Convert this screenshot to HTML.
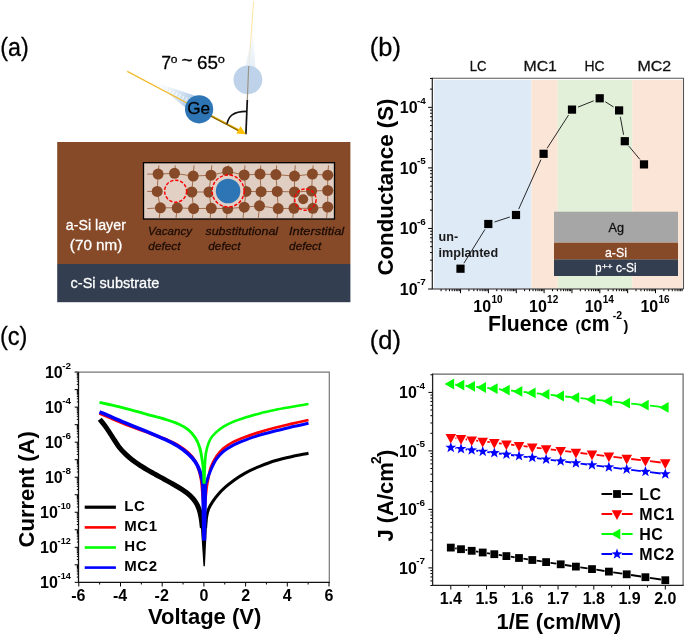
<!DOCTYPE html>
<html lang="en"><head><meta charset="utf-8"><title>Figure</title>
<style>html,body{margin:0;padding:0;background:#fff;overflow:hidden}svg{display:block;will-change:transform}text{font-family:"Liberation Sans",Arial,sans-serif;white-space:pre}</style></head>
<body>
<svg width="685" height="636" viewBox="0 0 685 636">
<rect width="685" height="636" fill="#fff"/>
<g id="pa">
<text x="0.35" y="55.80" font-size="25" textLength="28.4" lengthAdjust="spacingAndGlyphs" stroke="#000" stroke-width="0.28">(a)</text>
<defs><linearGradient id="tail1" gradientUnits="userSpaceOnUse" x1="156" y1="83" x2="190" y2="102"><stop offset="0" stop-color="#dbe7f4" stop-opacity="0"/><stop offset="1" stop-color="#b3cdea" stop-opacity="1"/></linearGradient><linearGradient id="tail2" gradientUnits="userSpaceOnUse" x1="253" y1="30" x2="249" y2="70"><stop offset="0" stop-color="#dbe7f4" stop-opacity="0"/><stop offset="1" stop-color="#e6eff8" stop-opacity="1"/></linearGradient><linearGradient id="yl" gradientUnits="userSpaceOnUse" x1="127" y1="71" x2="200" y2="110"><stop offset="0" stop-color="#ffc000" stop-opacity="0.75"/><stop offset="1" stop-color="#e0a800"/></linearGradient></defs>
<line x1="253.6" y1="1.5" x2="248.9" y2="66" stroke="#ffe7a6" stroke-width="1.1"/>
<polygon points="251.8,36 253.2,36 255.5,68 245.2,68" fill="url(#tail2)"/>
<circle cx="247.9" cy="79.8" r="14.4" fill="#bed3e9"/>
<line x1="248.7" y1="66" x2="247.3" y2="100" stroke="#9c9486" stroke-width="1.2"/>
<line x1="247.3" y1="100" x2="245.9" y2="134.3" stroke="#111" stroke-width="1.7"/>
<polygon points="153.6,81.8 196,96 187,109" fill="url(#tail1)"/>
<line x1="166" y1="89" x2="189" y2="100.8" stroke="#fff" stroke-width="4" stroke-dasharray="1.3 2.4" opacity="0.7"/>
<line x1="127.3" y1="71.4" x2="187" y2="103" stroke="#f2b92a" stroke-width="1.2"/>
<line x1="205" y1="112.7" x2="240" y2="131" stroke="#d9a400" stroke-width="2"/>
<line x1="205" y1="113.2" x2="239" y2="131" stroke="#5a4300" stroke-width="0.8"/>
<polygon points="245.9,134.2 236.2,133.4 240.5,126.2" fill="#ffc000"/>
<circle cx="199.1" cy="109.3" r="14.1" fill="#2e75b6"/>
<text x="187.24" y="114.40" font-size="17" textLength="22.9" lengthAdjust="spacingAndGlyphs" stroke="#000" stroke-width="0.28">Ge</text>
<path d="M227,123.9 C228.6,116.6 232.6,111.4 246.4,111.4" fill="none" stroke="#111" stroke-width="1.6"/>
<text x="161.22" y="68.60" font-size="17.6" textLength="9.8" lengthAdjust="spacingAndGlyphs" stroke="#000" stroke-width="0.28">7</text>
<text x="170.89" y="63.00" font-size="11.4" textLength="6.7" lengthAdjust="spacingAndGlyphs" stroke="#000" stroke-width="0.28">o</text>
<text x="181.55" y="65.60" font-size="17.6" textLength="11.1" lengthAdjust="spacingAndGlyphs" stroke="#000" stroke-width="0.28">~</text>
<text x="196.95" y="68.60" font-size="17.6" textLength="21.0" lengthAdjust="spacingAndGlyphs" stroke="#000" stroke-width="0.28">65</text>
<text x="217.86" y="63.00" font-size="11.4" textLength="7.1" lengthAdjust="spacingAndGlyphs" stroke="#000" stroke-width="0.28">o</text>
<rect x="57.2" y="142" width="293.2" height="122.2" fill="#864a28"/>
<rect x="57.2" y="264" width="293.2" height="38.2" fill="#333f50"/>
<text x="65.79" y="229.90" font-size="14.5" fill="#fff" textLength="60.1" lengthAdjust="spacingAndGlyphs" stroke="#fff" stroke-width="0.28">a-Si layer</text>
<text x="69.85" y="249.70" font-size="14.5" fill="#fff" textLength="52.5" lengthAdjust="spacingAndGlyphs" stroke="#fff" stroke-width="0.28">(70 nm)</text>
<text x="70.58" y="287.60" font-size="14.5" fill="#fff" textLength="88.7" lengthAdjust="spacingAndGlyphs" stroke="#fff" stroke-width="0.28">c-Si substrate</text>
<rect x="143.5" y="162.7" width="191" height="56.3" fill="#e0cec2" stroke="#000" stroke-width="1.3"/>
<path d="M147.2,174.1L158.1,174.1 M158.1,174.1L174.5,173.3 M174.5,173.3L193.2,176.1 M193.2,176.1L211.0,175.2 M211.0,175.2L227.7,171.5 M227.7,171.5L244.2,175.0 M244.2,175.0L260.0,174.1 M260.0,174.1L275.9,174.6 M275.9,174.6L294.5,176.1 M294.5,176.1L312.4,174.1 M312.4,174.1L327.7,175.2 M327.7,175.2L333.8,175.2 M147.2,191.4L157.2,191.4 M191.8,192.0L209.0,192.0 M246.0,191.4L261.1,191.7 M261.1,191.7L277.2,191.4 M277.2,191.4L294.5,192.0 M294.5,192.0L311.6,191.0 M311.6,191.0L327.7,190.5 M327.7,190.5L333.8,190.5 M147.2,208.6L160.4,207.8 M160.4,207.8L177.2,207.8 M177.2,207.8L193.6,208.6 M193.6,208.6L211.3,208.3 M211.3,208.3L227.7,208.6 M227.7,208.6L244.2,207.2 M244.2,207.2L259.5,205.8 M259.5,205.8L278.2,208.6 M278.2,208.6L294.0,208.3 M294.0,208.3L312.9,208.3 M312.9,208.3L327.7,207.0 M327.7,207.0L333.8,207.0 M158.9,165.4L158.1,174.1 M158.1,174.1L157.2,191.4 M157.2,191.4L160.4,207.8 M160.4,207.8L159.2,218.3 M175.3,165.4L174.5,173.3 M177.2,207.8L176.0,218.3 M194.0,165.4L193.2,176.1 M193.2,176.1L191.8,192.0 M191.8,192.0L193.6,208.6 M193.6,208.6L192.4,218.3 M211.8,165.4L211.0,175.2 M211.0,175.2L209.0,192.0 M209.0,192.0L211.3,208.3 M211.3,208.3L210.1,218.3 M228.5,165.4L227.7,171.5 M227.7,208.6L226.5,218.3 M245.0,165.4L244.2,175.0 M244.2,175.0L246.0,191.4 M246.0,191.4L244.2,207.2 M244.2,207.2L243.0,218.3 M260.8,165.4L260.0,174.1 M260.0,174.1L261.1,191.7 M261.1,191.7L259.5,205.8 M259.5,205.8L258.3,218.3 M276.7,165.4L275.9,174.6 M275.9,174.6L277.2,191.4 M277.2,191.4L278.2,208.6 M278.2,208.6L277.0,218.3 M295.3,165.4L294.5,176.1 M294.5,176.1L294.5,192.0 M294.5,192.0L294.0,208.3 M294.0,208.3L292.8,218.3 M313.2,165.4L312.4,174.1 M312.4,174.1L311.6,191.0 M311.6,191.0L312.9,208.3 M312.9,208.3L311.7,218.3 M328.5,165.4L327.7,175.2 M327.7,175.2L327.7,190.5 M327.7,190.5L327.7,207.0 M327.7,207.0L326.5,218.3" stroke="#9a623f" stroke-width="0.9" fill="none"/>
<circle cx="158.1" cy="174.1" r="5.5" fill="#864a28"/>
<circle cx="174.5" cy="173.3" r="5.5" fill="#864a28"/>
<circle cx="193.2" cy="176.1" r="5.5" fill="#864a28"/>
<circle cx="211" cy="175.2" r="5.5" fill="#864a28"/>
<circle cx="227.7" cy="171.5" r="5.5" fill="#864a28"/>
<circle cx="244.2" cy="175.0" r="5.5" fill="#864a28"/>
<circle cx="260" cy="174.1" r="5.5" fill="#864a28"/>
<circle cx="275.9" cy="174.6" r="5.5" fill="#864a28"/>
<circle cx="294.5" cy="176.1" r="5.5" fill="#864a28"/>
<circle cx="312.4" cy="174.1" r="5.5" fill="#864a28"/>
<circle cx="327.7" cy="175.2" r="5.5" fill="#864a28"/>
<circle cx="157.2" cy="191.4" r="5.5" fill="#864a28"/>
<circle cx="191.8" cy="192" r="5.5" fill="#864a28"/>
<circle cx="209" cy="192" r="5.5" fill="#864a28"/>
<circle cx="246" cy="191.4" r="5.5" fill="#864a28"/>
<circle cx="261.1" cy="191.7" r="5.5" fill="#864a28"/>
<circle cx="277.2" cy="191.4" r="5.5" fill="#864a28"/>
<circle cx="294.5" cy="192" r="5.5" fill="#864a28"/>
<circle cx="311.6" cy="191" r="5.5" fill="#864a28"/>
<circle cx="327.7" cy="190.5" r="5.5" fill="#864a28"/>
<circle cx="160.4" cy="207.8" r="5.5" fill="#864a28"/>
<circle cx="177.2" cy="207.8" r="5.5" fill="#864a28"/>
<circle cx="193.6" cy="208.6" r="5.5" fill="#864a28"/>
<circle cx="211.3" cy="208.3" r="5.5" fill="#864a28"/>
<circle cx="227.7" cy="208.6" r="5.5" fill="#864a28"/>
<circle cx="244.2" cy="207.2" r="5.5" fill="#864a28"/>
<circle cx="259.5" cy="205.8" r="5.5" fill="#864a28"/>
<circle cx="278.2" cy="208.6" r="5.5" fill="#864a28"/>
<circle cx="294" cy="208.3" r="5.5" fill="#864a28"/>
<circle cx="312.9" cy="208.3" r="5.5" fill="#864a28"/>
<circle cx="327.7" cy="207" r="5.5" fill="#864a28"/>
<circle cx="175.6" cy="191.2" r="11" fill="#e3d0c5" stroke="#ff0000" stroke-width="1.45" stroke-dasharray="3.4 1.7"/>
<circle cx="228.1" cy="191" r="16" fill="#e3d0c5" stroke="#ff0000" stroke-width="1.45" stroke-dasharray="3.4 1.7"/>
<circle cx="228.1" cy="191" r="12.3" fill="#2e75b6"/>
<circle cx="303.2" cy="199.3" r="5" fill="#864a28"/>
<circle cx="305.4" cy="199.6" r="10.7" fill="none" stroke="#ff0000" stroke-width="1.45" stroke-dasharray="3.4 1.7"/>
<text x="148.09" y="234.90" font-size="11.8" font-style="italic" fill="#1c0c04" textLength="43.9" lengthAdjust="spacingAndGlyphs" stroke="#1c0c04" stroke-width="0.28">Vacancy</text>
<text x="148.32" y="250.10" font-size="11.8" font-style="italic" fill="#1c0c04" textLength="32.2" lengthAdjust="spacingAndGlyphs" stroke="#1c0c04" stroke-width="0.28">defect</text>
<text x="205.47" y="234.90" font-size="11.8" font-style="italic" fill="#1c0c04" textLength="72.6" lengthAdjust="spacingAndGlyphs" stroke="#1c0c04" stroke-width="0.28">substitutional</text>
<text x="208.21" y="250.10" font-size="11.8" font-style="italic" fill="#1c0c04" textLength="32.4" lengthAdjust="spacingAndGlyphs" stroke="#1c0c04" stroke-width="0.28">defect</text>
<text x="288.98" y="234.90" font-size="11.8" font-style="italic" fill="#1c0c04" textLength="55.2" lengthAdjust="spacingAndGlyphs" stroke="#1c0c04" stroke-width="0.28">Interstitial</text>
<text x="289.12" y="250.10" font-size="11.8" font-style="italic" fill="#1c0c04" textLength="32.2" lengthAdjust="spacingAndGlyphs" stroke="#1c0c04" stroke-width="0.28">defect</text>
</g>
<g id="pb">
<text x="369.81" y="55.90" font-size="25.4" textLength="31.1" lengthAdjust="spacingAndGlyphs" stroke="#000" stroke-width="0.28">(b)</text>
<text x="469.72" y="71.00" font-size="14.6" fill="#111" textLength="16.8" lengthAdjust="spacingAndGlyphs" stroke="#111" stroke-width="0.28">LC</text>
<text x="523.50" y="71.00" font-size="14.6" fill="#111" textLength="33.4" lengthAdjust="spacingAndGlyphs" stroke="#111" stroke-width="0.28">MC1</text>
<text x="584.45" y="71.00" font-size="14.6" fill="#111" textLength="20.1" lengthAdjust="spacingAndGlyphs" stroke="#111" stroke-width="0.28">HC</text>
<text x="637.48" y="71.00" font-size="14.6" fill="#111" textLength="33.7" lengthAdjust="spacingAndGlyphs" stroke="#111" stroke-width="0.28">MC2</text>
<rect x="433.9" y="79.9" width="97.6" height="208.7" fill="#deebf7"/>
<rect x="531.5" y="79.9" width="26.3" height="208.7" fill="#fbe5d6"/>
<rect x="557.8" y="79.9" width="74.5" height="208.7" fill="#e2f0d9"/>
<rect x="632.3" y="79.9" width="50.2" height="208.7" fill="#fbe5d6"/>
<path d="M428.1,289.00H432.3M430.1,270.77H432.3M430.1,260.11H432.3M430.1,252.55H432.3M430.1,246.68H432.3M430.1,241.88H432.3M430.1,237.83H432.3M430.1,234.32H432.3M430.1,231.22H432.3M428.1,228.45H432.3M430.1,210.22H432.3M430.1,199.56H432.3M430.1,192.00H432.3M430.1,186.13H432.3M430.1,181.33H432.3M430.1,177.28H432.3M430.1,173.77H432.3M430.1,170.67H432.3M428.1,167.90H432.3M430.1,149.67H432.3M430.1,139.01H432.3M430.1,131.45H432.3M430.1,125.58H432.3M430.1,120.78H432.3M430.1,116.73H432.3M430.1,113.22H432.3M430.1,110.12H432.3M428.1,107.35H432.3M430.1,89.12H432.3M430.1,78.46H432.3M441.08,289.0V291.2M445.99,289.0V291.2M449.47,289.0V291.2M452.17,289.0V291.2M454.37,289.0V291.2M456.24,289.0V291.2M457.85,289.0V291.2M459.28,289.0V291.2M460.55,289.0V293.2M468.93,289.0V291.2M473.84,289.0V291.2M477.32,289.0V291.2M480.02,289.0V291.2M482.22,289.0V291.2M484.09,289.0V291.2M485.70,289.0V291.2M487.13,289.0V291.2M488.40,289.0V293.2M496.78,289.0V291.2M501.69,289.0V291.2M505.17,289.0V291.2M507.87,289.0V291.2M510.07,289.0V291.2M511.94,289.0V291.2M513.55,289.0V291.2M514.98,289.0V291.2M516.25,289.0V293.2M524.63,289.0V291.2M529.54,289.0V291.2M533.02,289.0V291.2M535.72,289.0V291.2M537.92,289.0V291.2M539.79,289.0V291.2M541.40,289.0V291.2M542.83,289.0V291.2M544.10,289.0V293.2M552.48,289.0V291.2M557.39,289.0V291.2M560.87,289.0V291.2M563.57,289.0V291.2M565.77,289.0V291.2M567.64,289.0V291.2M569.25,289.0V291.2M570.68,289.0V291.2M571.95,289.0V293.2M580.33,289.0V291.2M585.24,289.0V291.2M588.72,289.0V291.2M591.42,289.0V291.2M593.62,289.0V291.2M595.49,289.0V291.2M597.10,289.0V291.2M598.53,289.0V291.2M599.80,289.0V293.2M608.18,289.0V291.2M613.09,289.0V291.2M616.57,289.0V291.2M619.27,289.0V291.2M621.47,289.0V291.2M623.34,289.0V291.2M624.95,289.0V291.2M626.38,289.0V291.2M627.65,289.0V293.2M636.03,289.0V291.2M640.94,289.0V291.2M644.42,289.0V291.2M647.12,289.0V291.2M649.32,289.0V291.2M651.19,289.0V291.2M652.80,289.0V291.2M654.23,289.0V291.2M655.50,289.0V293.2M663.88,289.0V291.2M668.79,289.0V291.2M672.27,289.0V291.2M674.97,289.0V291.2M677.17,289.0V291.2M679.04,289.0V291.2M680.65,289.0V291.2M682.08,289.0V291.2" stroke="#000" stroke-width="1" fill="none"/>
<path d="M432.3,78.3H683.5V289.0" stroke="#555" stroke-width="1.1" fill="none"/>
<path d="M432.3,77.8V289.0H683.5" stroke="#222" stroke-width="1.2" fill="none"/>
<text x="399.80" y="294.60" font-size="16" font-weight="bold">10</text>
<text x="417.00" y="285.40" font-size="9.5" font-weight="bold" textLength="8.8" lengthAdjust="spacingAndGlyphs">-7</text>
<text x="399.80" y="234.05" font-size="16" font-weight="bold">10</text>
<text x="417.00" y="224.85" font-size="9.5" font-weight="bold" textLength="8.8" lengthAdjust="spacingAndGlyphs">-6</text>
<text x="399.80" y="173.50" font-size="16" font-weight="bold">10</text>
<text x="417.00" y="164.30" font-size="9.5" font-weight="bold" textLength="8.8" lengthAdjust="spacingAndGlyphs">-5</text>
<text x="399.80" y="112.95" font-size="16" font-weight="bold">10</text>
<text x="417.00" y="103.75" font-size="9.5" font-weight="bold" textLength="8.8" lengthAdjust="spacingAndGlyphs">-4</text>
<text x="473.30" y="311.90" font-size="16" font-weight="bold">10</text>
<text x="491.40" y="303.00" font-size="10" font-weight="bold">10</text>
<text x="529.00" y="311.90" font-size="16" font-weight="bold">10</text>
<text x="547.10" y="303.00" font-size="10" font-weight="bold">12</text>
<text x="584.70" y="311.90" font-size="16" font-weight="bold">10</text>
<text x="602.80" y="303.00" font-size="10" font-weight="bold">14</text>
<text x="640.40" y="311.90" font-size="16" font-weight="bold">10</text>
<text x="658.50" y="303.00" font-size="10" font-weight="bold">16</text>
<text x="488.00" y="330.70" font-size="21.2" font-weight="bold">Fluence</text>
<text x="575.60" y="330.70" font-size="14.5" font-weight="bold">(</text>
<text x="580.60" y="330.70" font-size="21.2" font-weight="bold" textLength="28.8" lengthAdjust="spacingAndGlyphs">cm</text>
<text x="612.80" y="318.50" font-size="10.5" font-weight="bold">-2</text>
<text x="623.60" y="330.70" font-size="14.5" font-weight="bold">)</text>
<text transform="translate(392.6,275.6) rotate(-90)" font-size="22.3" font-weight="bold">Conductance (S)</text>
<path d="M463.9,263.2L484.9,229.5M494.5,222.0L509.8,217.0M518.7,209.1L540.9,159.7M547.1,148.3L568.5,115.1M578.0,107.1L593.7,100.8M605.2,101.7L613.6,107.0M620.3,116.8L623.6,134.8M628.9,146.2L639.9,159.4" stroke="#111" stroke-width="0.9" fill="none"/>
<rect x="456.4" y="264.6" width="8.2" height="8.2" fill="#000"/>
<rect x="484.2" y="219.9" width="8.2" height="8.2" fill="#000"/>
<rect x="511.9" y="210.9" width="8.2" height="8.2" fill="#000"/>
<rect x="539.5" y="149.7" width="8.2" height="8.2" fill="#000"/>
<rect x="567.9" y="105.5" width="8.2" height="8.2" fill="#000"/>
<rect x="595.6" y="94.2" width="8.2" height="8.2" fill="#000"/>
<rect x="615.0" y="106.3" width="8.2" height="8.2" fill="#000"/>
<rect x="620.7" y="137.1" width="8.2" height="8.2" fill="#000"/>
<rect x="639.9" y="160.3" width="8.2" height="8.2" fill="#000"/>
<text x="438.60" y="241.20" font-size="12.6" font-weight="bold" fill="#1a1a1a">un-</text>
<text x="438.60" y="257.10" font-size="12.6" font-weight="bold" fill="#1a1a1a">implanted</text>
<rect x="554" y="211.7" width="124" height="30.4" fill="#a6a6a6"/><rect x="554" y="242.0" width="124" height="0.8" fill="#cfc6bf"/>
<rect x="554" y="242.6" width="124" height="17" fill="#864a28"/>
<rect x="554" y="259.5" width="124" height="16.5" fill="#333f50"/>
<text x="608.57" y="231.90" font-size="12.9" fill="#111" textLength="15.5" lengthAdjust="spacingAndGlyphs" stroke="#111" stroke-width="0.28">Ag</text>
<text x="604.97" y="256.70" font-size="13" fill="#fff" textLength="22.0" lengthAdjust="spacingAndGlyphs" stroke="#fff" stroke-width="0.28">a-Si</text>
<text x="595.26" y="272.20" font-size="13" fill="#fff" textLength="6.3" lengthAdjust="spacingAndGlyphs" stroke="#fff" stroke-width="0.28">p</text>
<text x="602.07" y="268.60" font-size="7" fill="#fff" textLength="10.5" lengthAdjust="spacingAndGlyphs" stroke="#fff" stroke-width="0.28">++</text>
<text x="615.99" y="272.20" font-size="13" fill="#fff" textLength="20.6" lengthAdjust="spacingAndGlyphs" stroke="#fff" stroke-width="0.28">c-Si</text>
</g>
<g id="pc">
<text x="0.03" y="344.80" font-size="25.2" textLength="27.4" lengthAdjust="spacingAndGlyphs" stroke="#000" stroke-width="0.28">(c)</text>
<path d="M74.7,582.34H78.5M76.8,577.07H78.5M76.8,573.98H78.5M76.8,571.79H78.5M76.8,570.09H78.5M76.8,568.71H78.5M76.8,567.53H78.5M76.8,566.52H78.5M76.8,565.62H78.5M74.7,564.82H78.5M76.8,559.55H78.5M76.8,556.46H78.5M76.8,554.27H78.5M76.8,552.57H78.5M76.8,551.19H78.5M76.8,550.01H78.5M76.8,549.00H78.5M76.8,548.10H78.5M74.7,547.30H78.5M76.8,542.03H78.5M76.8,538.94H78.5M76.8,536.75H78.5M76.8,535.05H78.5M76.8,533.67H78.5M76.8,532.49H78.5M76.8,531.48H78.5M76.8,530.58H78.5M74.7,529.78H78.5M76.8,524.51H78.5M76.8,521.42H78.5M76.8,519.23H78.5M76.8,517.53H78.5M76.8,516.15H78.5M76.8,514.97H78.5M76.8,513.96H78.5M76.8,513.06H78.5M74.7,512.26H78.5M76.8,506.99H78.5M76.8,503.90H78.5M76.8,501.71H78.5M76.8,500.01H78.5M76.8,498.63H78.5M76.8,497.45H78.5M76.8,496.44H78.5M76.8,495.54H78.5M74.7,494.74H78.5M76.8,489.47H78.5M76.8,486.38H78.5M76.8,484.19H78.5M76.8,482.49H78.5M76.8,481.11H78.5M76.8,479.93H78.5M76.8,478.92H78.5M76.8,478.02H78.5M74.7,477.22H78.5M76.8,471.95H78.5M76.8,468.86H78.5M76.8,466.67H78.5M76.8,464.97H78.5M76.8,463.59H78.5M76.8,462.41H78.5M76.8,461.40H78.5M76.8,460.50H78.5M74.7,459.70H78.5M76.8,454.43H78.5M76.8,451.34H78.5M76.8,449.15H78.5M76.8,447.45H78.5M76.8,446.07H78.5M76.8,444.89H78.5M76.8,443.88H78.5M76.8,442.98H78.5M74.7,442.18H78.5M76.8,436.91H78.5M76.8,433.82H78.5M76.8,431.63H78.5M76.8,429.93H78.5M76.8,428.55H78.5M76.8,427.37H78.5M76.8,426.36H78.5M76.8,425.46H78.5M74.7,424.66H78.5M76.8,419.39H78.5M76.8,416.30H78.5M76.8,414.11H78.5M76.8,412.41H78.5M76.8,411.03H78.5M76.8,409.85H78.5M76.8,408.84H78.5M76.8,407.94H78.5M74.7,407.14H78.5M76.8,401.87H78.5M76.8,398.78H78.5M76.8,396.59H78.5M76.8,394.89H78.5M76.8,393.51H78.5M76.8,392.33H78.5M76.8,391.32H78.5M76.8,390.42H78.5M74.7,389.62H78.5M76.8,384.35H78.5M76.8,381.26H78.5M76.8,379.07H78.5M76.8,377.37H78.5M76.8,375.99H78.5M76.8,374.81H78.5M76.8,373.80H78.5M76.8,372.90H78.5M74.7,372.10H78.5M78.80,582.3V586.5M99.65,582.3V584.5M120.50,582.3V586.5M141.35,582.3V584.5M162.20,582.3V586.5M183.05,582.3V584.5M203.90,582.3V586.5M224.75,582.3V584.5M245.60,582.3V586.5M266.45,582.3V584.5M287.30,582.3V586.5M308.15,582.3V584.5M329.00,582.3V586.5" stroke="#000" stroke-width="1" fill="none"/>
<path d="M74.7,372.1H329.3V582.3" stroke="#777" stroke-width="1.2" fill="none"/>
<path d="M78.5,372.1V582.3H329.90000000000003" stroke="#111" stroke-width="1.3" fill="none"/>
<text x="40.00" y="587.94" font-size="16" font-weight="bold">10</text>
<text x="57.60" y="578.74" font-size="9.5" font-weight="bold" textLength="13.2" lengthAdjust="spacingAndGlyphs">-14</text>
<text x="40.00" y="552.90" font-size="16" font-weight="bold">10</text>
<text x="57.60" y="543.70" font-size="9.5" font-weight="bold" textLength="13.2" lengthAdjust="spacingAndGlyphs">-12</text>
<text x="40.00" y="517.86" font-size="16" font-weight="bold">10</text>
<text x="57.60" y="508.66" font-size="9.5" font-weight="bold" textLength="13.2" lengthAdjust="spacingAndGlyphs">-10</text>
<text x="44.90" y="482.82" font-size="16" font-weight="bold">10</text>
<text x="62.20" y="473.62" font-size="9.5" font-weight="bold" textLength="8.8" lengthAdjust="spacingAndGlyphs">-8</text>
<text x="44.90" y="447.78" font-size="16" font-weight="bold">10</text>
<text x="62.20" y="438.58" font-size="9.5" font-weight="bold" textLength="8.8" lengthAdjust="spacingAndGlyphs">-6</text>
<text x="44.90" y="412.74" font-size="16" font-weight="bold">10</text>
<text x="62.20" y="403.54" font-size="9.5" font-weight="bold" textLength="8.8" lengthAdjust="spacingAndGlyphs">-4</text>
<text x="44.90" y="377.70" font-size="16" font-weight="bold">10</text>
<text x="62.20" y="368.50" font-size="9.5" font-weight="bold" textLength="8.8" lengthAdjust="spacingAndGlyphs">-2</text>
<text x="78.30" y="600.60" font-size="16" font-weight="bold" text-anchor="middle">-6</text>
<text x="120.00" y="600.60" font-size="16" font-weight="bold" text-anchor="middle">-4</text>
<text x="161.70" y="600.60" font-size="16" font-weight="bold" text-anchor="middle">-2</text>
<text x="203.90" y="600.60" font-size="16" font-weight="bold" text-anchor="middle">0</text>
<text x="245.60" y="600.60" font-size="16" font-weight="bold" text-anchor="middle">2</text>
<text x="287.30" y="600.60" font-size="16" font-weight="bold" text-anchor="middle">4</text>
<text x="329.00" y="600.60" font-size="16" font-weight="bold" text-anchor="middle">6</text>
<text x="148.00" y="624.40" font-size="22" font-weight="bold">Voltage (V)</text>
<text transform="translate(33.5,547.4) rotate(-90)" font-size="22" font-weight="bold">Current (A)</text>
<path d="M99.8,419.3C100.7,420.5 103.3,423.5 105.4,426.4C107.5,429.3 110.0,433.3 112.3,436.8C114.6,440.3 116.9,444.2 119.2,447.2C121.5,450.2 123.8,452.4 126.1,454.6C128.4,456.8 130.7,458.7 133.0,460.5C135.3,462.3 137.7,463.8 140.0,465.3C142.3,466.8 144.3,468.2 146.9,469.7C149.5,471.2 152.6,472.9 155.5,474.5C158.4,476.1 161.3,477.6 164.2,479.2C167.1,480.8 169.9,482.3 172.8,484.0C175.7,485.7 178.6,487.3 181.5,489.2C184.4,491.1 187.8,493.5 190.1,495.6C192.4,497.7 193.9,499.5 195.3,501.7C196.8,503.9 197.9,506.0 198.8,508.6C199.8,511.2 200.4,514.0 201.0,517.2C201.6,520.4 202.2,526.2 202.4,528.0" stroke="#000" stroke-width="5.0" fill="none" stroke-linejoin="round"/>
<path d="M205.6,528.0C205.8,526.2 206.1,520.2 206.6,517.0C207.1,513.8 207.6,511.6 208.6,509.0C209.6,506.4 211.1,504.1 212.7,501.7C214.3,499.3 216.0,496.9 218.1,494.5C220.2,492.1 222.6,489.6 225.3,487.2C228.0,484.8 231.1,482.4 234.4,480.0C237.7,477.6 241.0,475.4 245.2,473.1C249.4,470.8 254.6,468.5 259.7,466.4C264.8,464.3 270.5,462.1 275.9,460.5C281.3,458.9 286.8,457.7 292.2,456.5C297.6,455.3 305.8,453.8 308.5,453.2" stroke="#000" stroke-width="3.0" fill="none" stroke-linejoin="round"/>
<polygon points="200.4,520 207.2,520 204.9,566.2 203.5,566.2" fill="#000"/>
<path d="M99.5,413.4C101.6,414.3 107.3,416.7 112.3,418.8C117.3,420.9 123.8,423.6 129.6,425.8C135.4,428.0 141.1,430.1 146.9,432.2C152.7,434.3 159.0,436.5 164.2,438.7C169.4,440.9 174.0,442.9 178.0,445.3C182.0,447.7 185.5,450.2 188.4,452.8C191.3,455.4 193.5,458.2 195.3,461.2C197.1,464.1 198.0,467.4 199.0,470.5C200.0,473.6 200.6,476.4 201.2,480.0C201.8,483.6 202.0,487.7 202.4,492.0C202.8,496.3 203.4,503.7 203.6,506.0" stroke="#ff0000" stroke-width="2.9" fill="none" stroke-linejoin="round"/>
<path d="M204.8,506.0C205.1,503.0 206.0,492.7 206.6,488.0C207.2,483.3 207.7,481.4 208.4,478.0C209.1,474.6 209.5,470.9 210.8,467.3C212.1,463.7 214.2,459.7 216.3,456.5C218.4,453.3 220.8,450.7 223.5,448.3C226.2,445.9 228.9,444.3 232.5,442.4C236.1,440.5 240.7,438.7 245.2,437.0C249.7,435.3 254.6,433.7 259.7,432.1C264.8,430.5 270.5,428.9 275.9,427.5C281.3,426.1 286.8,424.9 292.2,423.6C297.6,422.4 305.8,420.6 308.5,420.0" stroke="#ff0000" stroke-width="2.7" fill="none" stroke-linejoin="round"/>
<path d="M99.5,411.8C101.6,412.7 107.3,415.2 112.3,417.3C117.3,419.4 123.8,422.3 129.6,424.7C135.4,427.1 141.1,429.2 146.9,431.6C152.7,434.0 159.0,436.7 164.2,439.1C169.4,441.6 174.0,443.8 178.0,446.3C182.0,448.8 185.5,451.5 188.4,454.1C191.3,456.7 193.4,459.2 195.3,461.9C197.2,464.6 198.5,467.6 199.6,470.5C200.7,473.4 201.4,475.9 202.0,479.2C202.6,482.4 202.9,479.9 203.2,490.0C203.5,500.1 203.8,531.7 203.9,540.0" stroke="#0000ff" stroke-width="3.6" fill="none" stroke-linejoin="round"/>
<path d="M204.3,540.0C204.5,531.7 204.9,500.0 205.4,490.0C205.9,480.0 206.3,483.3 207.2,480.0C208.1,476.7 209.3,473.5 210.8,470.0C212.3,466.5 214.2,462.3 216.3,459.2C218.4,456.1 220.8,453.7 223.5,451.4C226.2,449.1 228.9,447.5 232.5,445.6C236.1,443.7 240.7,441.9 245.2,440.2C249.7,438.4 254.6,436.7 259.7,435.1C264.8,433.5 270.5,432.2 275.9,430.8C281.3,429.4 286.8,428.1 292.2,426.8C297.6,425.5 305.8,423.8 308.5,423.2" stroke="#0000ff" stroke-width="3.0" fill="none" stroke-linejoin="round"/>
<polygon points="201.6,484 206.8,484 206.2,540.5 202.0,540.5" fill="#0000ff"/>
<path d="M99.5,402.4C101.6,402.9 107.6,404.2 112.0,405.2C116.4,406.2 120.3,407.1 126.1,408.6C131.9,410.1 140.6,412.6 146.9,414.3C153.2,416.0 159.0,417.4 164.2,419.0C169.4,420.6 174.0,422.0 178.0,423.8C182.0,425.6 185.5,427.6 188.4,429.9C191.3,432.2 193.4,434.8 195.3,437.7C197.2,440.6 198.5,443.8 199.6,447.2C200.7,450.6 201.3,454.8 201.9,458.4C202.5,462.0 203.0,464.6 203.3,468.8C203.7,473.0 203.9,481.1 204.0,483.5" stroke="#00ff00" stroke-width="2.9" fill="none" stroke-linejoin="round"/>
<path d="M204.2,483.5C204.4,479.3 204.8,464.3 205.3,458.3C205.8,452.3 206.3,450.7 207.2,447.4C208.1,444.1 209.3,440.9 210.8,438.4C212.3,435.8 214.2,434.1 216.3,432.1C218.4,430.1 220.8,428.3 223.5,426.6C226.2,424.9 228.9,423.6 232.5,422.1C236.1,420.6 240.7,419.1 245.2,417.6C249.7,416.2 254.6,414.7 259.7,413.4C264.8,412.1 270.5,410.9 275.9,409.8C281.3,408.7 286.8,407.8 292.2,406.8C297.6,405.8 305.8,404.5 308.5,404.0" stroke="#00ff00" stroke-width="2.6" fill="none" stroke-linejoin="round"/>
<line x1="84.7" y1="507.2" x2="115.9" y2="507.2" stroke="#000" stroke-width="3.2"/>
<text x="124.30" y="510.60" font-size="15" font-weight="bold" letter-spacing="0.55">LC</text>
<line x1="84.7" y1="527.4" x2="115.9" y2="527.4" stroke="#ff0000" stroke-width="2.6"/>
<text x="124.30" y="530.75" font-size="15" font-weight="bold" letter-spacing="0.55">MC1</text>
<line x1="84.7" y1="547.5" x2="115.9" y2="547.5" stroke="#00ff00" stroke-width="2.6"/>
<text x="124.30" y="550.90" font-size="15" font-weight="bold" letter-spacing="0.55">HC</text>
<line x1="84.7" y1="567.6" x2="115.9" y2="567.6" stroke="#0000ff" stroke-width="2.6"/>
<text x="124.30" y="571.05" font-size="15" font-weight="bold" letter-spacing="0.55">MC2</text>
</g>
<g id="pd">
<text x="369.81" y="349.20" font-size="25.2" textLength="31.1" lengthAdjust="spacingAndGlyphs" stroke="#000" stroke-width="0.28">(d)</text>
<path d="M430.4,585.51H432.6M430.4,580.88H432.6M430.4,576.96H432.6M430.4,573.57H432.6M430.4,570.58H432.6M428.4,567.90H432.6M430.4,550.29H432.6M430.4,539.99H432.6M430.4,532.68H432.6M430.4,527.01H432.6M430.4,522.38H432.6M430.4,518.46H432.6M430.4,515.07H432.6M430.4,512.08H432.6M428.4,509.40H432.6M430.4,491.79H432.6M430.4,481.49H432.6M430.4,474.18H432.6M430.4,468.51H432.6M430.4,463.88H432.6M430.4,459.96H432.6M430.4,456.57H432.6M430.4,453.58H432.6M428.4,450.90H432.6M430.4,433.29H432.6M430.4,422.99H432.6M430.4,415.68H432.6M430.4,410.01H432.6M430.4,405.38H432.6M430.4,401.46H432.6M430.4,398.07H432.6M430.4,395.08H432.6M428.4,392.40H432.6M430.4,374.79H432.6M450.80,585.3V589.5M468.68,585.3V587.5M486.55,585.3V589.5M504.42,585.3V587.5M522.30,585.3V589.5M540.17,585.3V587.5M558.05,585.3V589.5M575.93,585.3V587.5M593.80,585.3V589.5M611.67,585.3V587.5M629.55,585.3V589.5M647.43,585.3V587.5M665.30,585.3V589.5" stroke="#000" stroke-width="1" fill="none"/>
<path d="M432.6,374.1H683.1V585.3" stroke="#666" stroke-width="1.2" fill="none"/>
<path d="M432.6,373.6V585.3H683.7" stroke="#222" stroke-width="1.3" fill="none"/>
<text x="399.00" y="573.50" font-size="16" font-weight="bold">10</text>
<text x="416.30" y="564.30" font-size="9.5" font-weight="bold" textLength="8.8" lengthAdjust="spacingAndGlyphs">-7</text>
<text x="399.00" y="515.00" font-size="16" font-weight="bold">10</text>
<text x="416.30" y="505.80" font-size="9.5" font-weight="bold" textLength="8.8" lengthAdjust="spacingAndGlyphs">-6</text>
<text x="399.00" y="456.50" font-size="16" font-weight="bold">10</text>
<text x="416.30" y="447.30" font-size="9.5" font-weight="bold" textLength="8.8" lengthAdjust="spacingAndGlyphs">-5</text>
<text x="399.00" y="398.00" font-size="16" font-weight="bold">10</text>
<text x="416.30" y="388.80" font-size="9.5" font-weight="bold" textLength="8.8" lengthAdjust="spacingAndGlyphs">-4</text>
<text x="450.80" y="603.90" font-size="16" font-weight="bold" text-anchor="middle">1.4</text>
<text x="486.55" y="603.90" font-size="16" font-weight="bold" text-anchor="middle">1.5</text>
<text x="522.30" y="603.90" font-size="16" font-weight="bold" text-anchor="middle">1.6</text>
<text x="558.05" y="603.90" font-size="16" font-weight="bold" text-anchor="middle">1.7</text>
<text x="593.80" y="603.90" font-size="16" font-weight="bold" text-anchor="middle">1.8</text>
<text x="629.55" y="603.90" font-size="16" font-weight="bold" text-anchor="middle">1.9</text>
<text x="665.30" y="603.90" font-size="16" font-weight="bold" text-anchor="middle">2.0</text>
<text x="496.50" y="629.30" font-size="22" font-weight="bold">1/E (cm/MV)</text>
<g transform="translate(393.3,541.6) rotate(-90)" font-weight="bold"><text x="0" y="0" font-size="22">J (A/cm</text><text x="77.6" y="-12.4" font-size="14">2</text><text x="84.6" y="0" font-size="22">)</text></g>
<path d="M455.4,384.5L456.4,384.6M465.6,385.6L467.1,385.8M476.2,386.8L478.2,387.0M487.3,388.0L489.7,388.2M498.9,389.2L501.8,389.6M511.0,390.6L514.5,390.9M523.6,391.9L527.7,392.4M536.8,393.4L541.6,393.9M550.7,394.9L556.1,395.5M565.2,396.5L571.4,397.2M580.5,398.1L587.4,398.9M596.5,399.9L604.3,400.7M613.4,401.7L622.1,402.7M631.2,403.7L640.9,404.7M650.0,405.7L660.7,406.9" stroke="#00ff00" stroke-width="1.8" fill="none"/>
<polygon points="444.6,384.0 454.1,378.6 454.1,389.4" fill="#00ff00"/>
<polygon points="454.8,385.1 464.3,379.7 464.3,390.5" fill="#00ff00"/>
<polygon points="465.5,386.3 475.0,380.9 475.0,391.7" fill="#00ff00"/>
<polygon points="476.5,387.5 486.0,382.1 486.0,392.9" fill="#00ff00"/>
<polygon points="488.1,388.7 497.6,383.3 497.6,394.1" fill="#00ff00"/>
<polygon points="500.2,390.1 509.7,384.7 509.7,395.5" fill="#00ff00"/>
<polygon points="512.8,391.4 522.3,386.0 522.3,396.8" fill="#00ff00"/>
<polygon points="526.1,392.9 535.6,387.5 535.6,398.3" fill="#00ff00"/>
<polygon points="539.9,394.4 549.4,389.0 549.4,399.8" fill="#00ff00"/>
<polygon points="554.5,396.0 564.0,390.6 564.0,401.4" fill="#00ff00"/>
<polygon points="569.7,397.6 579.2,392.2 579.2,403.0" fill="#00ff00"/>
<polygon points="585.8,399.4 595.3,394.0 595.3,404.8" fill="#00ff00"/>
<polygon points="602.7,401.2 612.2,395.8 612.2,406.6" fill="#00ff00"/>
<polygon points="620.5,403.2 630.0,397.8 630.0,408.6" fill="#00ff00"/>
<polygon points="639.2,405.2 648.7,399.8 648.7,410.6" fill="#00ff00"/>
<polygon points="659.1,407.4 668.6,402.0 668.6,412.8" fill="#00ff00"/>
<path d="M455.4,448.2L456.4,448.3M465.6,449.4L467.1,449.6M476.2,450.7L478.2,451.0M487.3,452.1L489.8,452.4M498.9,453.5L501.8,453.9M511.0,455.0L514.5,455.5M523.6,456.6L527.7,457.1M536.8,458.2L541.6,458.8M550.7,459.9L556.1,460.6M565.2,461.7L571.4,462.5M580.5,463.6L587.4,464.5M596.5,465.6L604.3,466.6M613.4,467.7L622.1,468.8M631.2,469.9L640.9,471.1M650.0,472.2L660.7,473.5" stroke="#0000ff" stroke-width="1.8" fill="none"/>
<polygon points="450.8,441.9 452.2,445.7 456.2,445.8 453.0,448.3 454.2,452.2 450.8,449.9 447.4,452.2 448.6,448.3 445.4,445.8 449.4,445.7" fill="#0000ff"/>
<polygon points="461.0,443.2 462.4,447.0 466.4,447.1 463.2,449.6 464.4,453.5 461.0,451.2 457.7,453.5 458.8,449.6 455.6,447.1 459.7,447.0" fill="#0000ff"/>
<polygon points="471.7,444.5 473.0,448.3 477.1,448.4 473.8,450.9 475.0,454.8 471.7,452.5 468.3,454.8 469.5,450.9 466.2,448.4 470.3,448.3" fill="#0000ff"/>
<polygon points="482.7,445.8 484.1,449.7 488.2,449.8 484.9,452.3 486.1,456.2 482.7,453.8 479.4,456.2 480.6,452.3 477.3,449.8 481.4,449.7" fill="#0000ff"/>
<polygon points="494.3,447.3 495.7,451.1 499.7,451.2 496.5,453.7 497.7,457.6 494.3,455.3 491.0,457.6 492.1,453.7 488.9,451.2 493.0,451.1" fill="#0000ff"/>
<polygon points="506.4,448.8 507.8,452.6 511.8,452.7 508.6,455.2 509.8,459.1 506.4,456.8 503.1,459.1 504.2,455.2 501.0,452.7 505.1,452.6" fill="#0000ff"/>
<polygon points="519.0,450.3 520.4,454.2 524.5,454.3 521.2,456.7 522.4,460.6 519.0,458.3 515.7,460.6 516.9,456.7 513.6,454.3 517.7,454.2" fill="#0000ff"/>
<polygon points="532.3,452.0 533.6,455.8 537.7,455.9 534.5,458.4 535.6,462.3 532.3,460.0 528.9,462.3 530.1,458.4 526.9,455.9 530.9,455.8" fill="#0000ff"/>
<polygon points="546.1,453.7 547.5,457.5 551.6,457.6 548.3,460.1 549.5,464.0 546.1,461.7 542.8,464.0 543.9,460.1 540.7,457.6 544.8,457.5" fill="#0000ff"/>
<polygon points="560.7,455.5 562.0,459.3 566.1,459.4 562.9,461.9 564.0,465.8 560.7,463.5 557.3,465.8 558.5,461.9 555.2,459.4 559.3,459.3" fill="#0000ff"/>
<polygon points="575.9,457.4 577.3,461.2 581.3,461.3 578.1,463.8 579.3,467.7 575.9,465.4 572.6,467.7 573.7,463.8 570.5,461.3 574.6,461.2" fill="#0000ff"/>
<polygon points="592.0,459.3 593.3,463.2 597.4,463.3 594.2,465.8 595.3,469.7 592.0,467.3 588.6,469.7 589.8,465.8 586.5,463.3 590.6,463.2" fill="#0000ff"/>
<polygon points="608.9,461.4 610.2,465.3 614.3,465.4 611.0,467.8 612.2,471.7 608.9,469.4 605.5,471.7 606.7,467.8 603.4,465.4 607.5,465.3" fill="#0000ff"/>
<polygon points="626.7,463.6 628.0,467.5 632.1,467.6 628.8,470.0 630.0,473.9 626.7,471.6 623.3,473.9 624.5,470.0 621.2,467.6 625.3,467.5" fill="#0000ff"/>
<polygon points="645.4,465.9 646.8,469.8 650.9,469.9 647.6,472.4 648.8,476.3 645.4,473.9 642.1,476.3 643.3,472.4 640.0,469.9 644.1,469.8" fill="#0000ff"/>
<polygon points="665.3,468.4 666.7,472.2 670.7,472.3 667.5,474.8 668.7,478.7 665.3,476.4 661.9,478.7 663.1,474.8 659.9,472.3 663.9,472.2" fill="#0000ff"/>
<path d="M455.4,438.1L456.4,438.3M465.6,439.4L467.1,439.5M476.2,440.6L478.2,440.8M487.3,441.9L489.8,442.2M498.9,443.3L501.8,443.6M511.0,444.7L514.5,445.1M523.6,446.2L527.7,446.7M536.8,447.8L541.6,448.3M550.7,449.4L556.1,450.1M565.2,451.2L571.4,451.9M580.5,453.0L587.4,453.8M596.5,454.9L604.3,455.8M613.4,456.9L622.1,457.9M631.2,459.0L640.9,460.1M650.0,461.2L660.7,462.5" stroke="#ff0000" stroke-width="1.8" fill="none"/>
<polygon points="445.5,433.9 456.1,433.9 450.8,443.6" fill="#ff0000"/>
<polygon points="455.7,435.1 466.3,435.1 461.0,444.8" fill="#ff0000"/>
<polygon points="466.4,436.4 477.0,436.4 471.7,446.1" fill="#ff0000"/>
<polygon points="477.4,437.7 488.0,437.7 482.7,447.4" fill="#ff0000"/>
<polygon points="489.0,439.1 499.6,439.1 494.3,448.8" fill="#ff0000"/>
<polygon points="501.1,440.5 511.7,440.5 506.4,450.2" fill="#ff0000"/>
<polygon points="513.8,442.0 524.3,442.0 519.0,451.7" fill="#ff0000"/>
<polygon points="527.0,443.5 537.6,443.5 532.3,453.2" fill="#ff0000"/>
<polygon points="540.8,445.2 551.4,445.2 546.1,454.9" fill="#ff0000"/>
<polygon points="555.4,446.9 566.0,446.9 560.7,456.6" fill="#ff0000"/>
<polygon points="570.6,448.7 581.2,448.7 575.9,458.4" fill="#ff0000"/>
<polygon points="586.7,450.6 597.3,450.6 592.0,460.3" fill="#ff0000"/>
<polygon points="603.6,452.6 614.2,452.6 608.9,462.3" fill="#ff0000"/>
<polygon points="621.4,454.7 632.0,454.7 626.7,464.4" fill="#ff0000"/>
<polygon points="640.1,456.9 650.7,456.9 645.4,466.6" fill="#ff0000"/>
<polygon points="660.0,459.3 670.6,459.3 665.3,469.0" fill="#ff0000"/>
<path d="M455.2,548.3L456.7,548.5M465.4,549.8L467.3,550.1M476.0,551.4L478.4,551.8M487.1,553.1L490.0,553.6M498.7,554.9L502.1,555.4M510.8,556.7L514.7,557.3M523.4,558.6L527.9,559.3M536.6,560.6L541.8,561.4M550.5,562.8L556.3,563.6M565.0,565.0L571.6,566.0M580.3,567.3L587.6,568.4M596.3,569.7L604.5,571.0M613.2,572.3L622.3,573.7M631.0,575.0L641.1,576.5M649.8,577.8L660.9,579.5" stroke="#000" stroke-width="1.8" fill="none"/>
<rect x="446.9" y="543.7" width="7.8" height="7.8" fill="#000"/>
<rect x="457.1" y="545.3" width="7.8" height="7.8" fill="#000"/>
<rect x="467.8" y="546.9" width="7.8" height="7.8" fill="#000"/>
<rect x="478.8" y="548.6" width="7.8" height="7.8" fill="#000"/>
<rect x="490.4" y="550.3" width="7.8" height="7.8" fill="#000"/>
<rect x="502.5" y="552.2" width="7.8" height="7.8" fill="#000"/>
<rect x="515.1" y="554.1" width="7.8" height="7.8" fill="#000"/>
<rect x="528.4" y="556.1" width="7.8" height="7.8" fill="#000"/>
<rect x="542.2" y="558.2" width="7.8" height="7.8" fill="#000"/>
<rect x="556.8" y="560.4" width="7.8" height="7.8" fill="#000"/>
<rect x="572.0" y="562.7" width="7.8" height="7.8" fill="#000"/>
<rect x="588.1" y="565.2" width="7.8" height="7.8" fill="#000"/>
<rect x="605.0" y="567.7" width="7.8" height="7.8" fill="#000"/>
<rect x="622.8" y="570.4" width="7.8" height="7.8" fill="#000"/>
<rect x="641.5" y="573.3" width="7.8" height="7.8" fill="#000"/>
<rect x="661.4" y="576.3" width="7.8" height="7.8" fill="#000"/>
<path d="M601.5,494.0H612.2M621.8,494.0H632.6" stroke="#000" stroke-width="2"/>
<rect x="613.1" y="490.1" width="7.8" height="7.8" fill="#000"/>
<text x="639.30" y="499.70" font-size="16" font-weight="bold" letter-spacing="0.5">LC</text>
<path d="M601.5,514.0H612.2M621.8,514.0H632.6" stroke="#ff0000" stroke-width="2"/>
<polygon points="611.7,510.3 622.3,510.3 617.0,520.0" fill="#ff0000"/>
<text x="639.30" y="519.75" font-size="16" font-weight="bold" letter-spacing="0.5">MC1</text>
<path d="M601.5,534.1H612.2M621.8,534.1H632.6" stroke="#00ff00" stroke-width="2"/>
<polygon points="610.8,534.1 620.3,528.7 620.3,539.5" fill="#00ff00"/>
<text x="639.30" y="539.80" font-size="16" font-weight="bold" letter-spacing="0.5">HC</text>
<path d="M601.5,554.1H612.2M621.8,554.1H632.6" stroke="#0000ff" stroke-width="2"/>
<polygon points="617.0,548.4 618.4,552.3 622.4,552.4 619.2,554.9 620.4,558.8 617.0,556.4 613.6,558.8 614.8,554.9 611.6,552.4 615.6,552.3" fill="#0000ff"/>
<text x="639.30" y="559.85" font-size="16" font-weight="bold" letter-spacing="0.5">MC2</text>
</g>
</svg>
</body></html>
